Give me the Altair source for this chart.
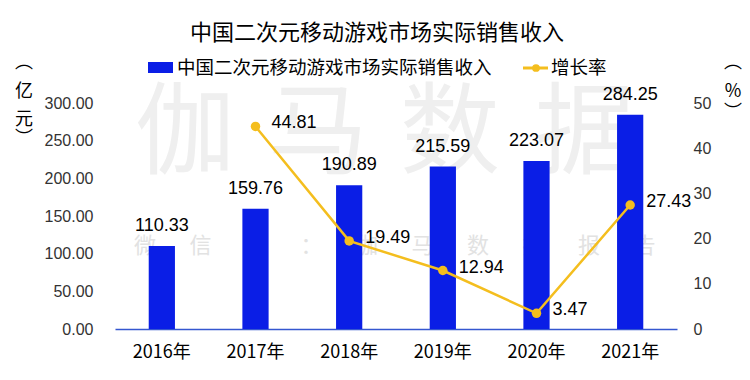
import altair as alt
import pandas as pd

years = ["2016年", "2017年", "2018年", "2019年", "2020年", "2021年"]
revenue = [110.33, 159.76, 190.89, 215.59, 223.07, 284.25]
growth_years = ["2017年", "2018年", "2019年", "2020年", "2021年"]
growth = [44.81, 19.49, 12.94, 3.47, 27.43]
rev_ticks = [0, 50, 100, 150, 200, 250, 300]
pct_ticks = [0, 10, 20, 30, 40, 50]

title_text = "中国二次元移动游戏市场实际销售收入"
legend_bar = "中国二次元移动游戏市场实际销售收入"
legend_line = "增长率"

bar_df = pd.DataFrame({"year": years, "revenue": revenue})
line_df = pd.DataFrame({"year": growth_years, "growth": growth})
one = pd.DataFrame({"k": [0]})

BLUE = "#0A1EE6"
GOLD = "#F4BE1E"
CJK = "Noto Sans CJK SC"
NUM = "Liberation Sans"

xenc = alt.X(
    "year:N", sort=years,
    scale=alt.Scale(domain=years, paddingInner=0.72, paddingOuter=0.36),
    axis=alt.Axis(title=None, labelAngle=0, labelFont=CJK, labelFontSize=18,
                  labelColor="#000", labelPadding=14, ticks=False,
                  domainColor="#3557D0", domainWidth=1.5, grid=False),
)
yrev = alt.Y(
    "revenue:Q", scale=alt.Scale(domain=[0, 300], nice=False),
    axis=alt.Axis(title=None, values=rev_ticks, format=".2f", labelFont=NUM,
                  labelFontSize=16, labelColor="#333", labelPadding=22,
                  ticks=False, domain=False, grid=False),
)
ypct = alt.Y(
    "growth:Q", scale=alt.Scale(domain=[0, 50], nice=False),
    axis=alt.Axis(title=None, orient="right", values=pct_ticks, format="d",
                  labelFont=NUM, labelFontSize=16, labelColor="#333",
                  labelPadding=16, ticks=False, domain=False, grid=False),
)

bars = alt.Chart(bar_df).mark_bar(color=BLUE).encode(x=xenc, y=yrev)
bar_text = alt.Chart(bar_df).mark_text(
    font=NUM, fontSize=18, color="#000", baseline="middle", dy=-20
).encode(x=xenc, y=yrev, text=alt.Text("revenue:Q", format=".2f"))
bar_group = alt.layer(bars, bar_text)

line = alt.Chart(line_df).mark_line(color=GOLD, strokeWidth=2.5).encode(x=xenc, y=ypct)
pts = alt.Chart(line_df).mark_point(color=GOLD, filled=True, opacity=1, size=90).encode(x=xenc, y=ypct)
line_text = alt.Chart(line_df).mark_text(
    font=NUM, fontSize=18, color="#000", align="left", baseline="middle", dx=16, dy=-3
).encode(x=xenc, y=ypct, text=alt.Text("growth:Q", format=".2f"))
line_group = alt.layer(line, pts, line_text)


def txt(s, x, y, size=18, color="#000", align="center", font=CJK):
    return alt.Chart(one).mark_text(
        text=s, font=font, fontSize=size, color=color, align=align, baseline="middle"
    ).encode(x=alt.value(x), y=alt.value(y))


deco = []
# watermark
for ch, xx in zip("伽马数据", [70, 203, 335, 470]):
    deco.append(txt(ch, xx, 33, size=100, color="#efefef"))
for i, ch in enumerate("微信号：伽马数据报告"):
    deco.append(txt(ch, 30 + i * 55.5, 143, size=22, color="#e2e2e2"))

front = []
front.append(txt(title_text, 262, -70, size=22))
# legend
front.append(alt.Chart(one).mark_rect(color=BLUE).encode(
    x=alt.value(33), x2=alt.value(58), y=alt.value(-41), y2=alt.value(-30)))
front.append(txt(legend_bar, 62, -35, size=18.5, align="left"))
front.append(alt.Chart(one).mark_rule(color=GOLD, strokeWidth=3).encode(
    x=alt.value(408), x2=alt.value(433), y=alt.value(-35)))
front.append(alt.Chart(one).mark_point(color=GOLD, filled=True, opacity=1, size=60).encode(
    x=alt.value(421), y=alt.value(-35)))
front.append(txt(legend_line, 436, -35, size=18.5, align="left"))
# axis titles
for ch, yy in zip(["︵", "亿", "元", "︶"], [-40, -11, 17, 36]):
    front.append(txt(ch, -91, yy, size=18))
for ch, yy in zip(["︵", "%", "︶"], [-40, -11, 10]):
    front.append(txt(ch, 618, yy, size=18))

chart = alt.layer(*deco, bar_group, line_group, *front).resolve_scale(
    y="independent"
).properties(
    width=562, height=226,
    autosize=alt.AutoSizeParams(type="none"),
    padding={"left": 107, "top": 95, "right": 65, "bottom": 43},
    background="white",
).configure_view(stroke=None)

chart.save("out.html", embed_options={"renderer": "svg", "actions": False})
